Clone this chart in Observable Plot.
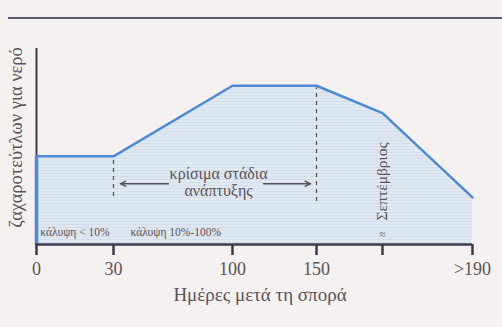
<!DOCTYPE html>
<html>
<head>
<meta charset="utf-8">
<script src="https://cdn.jsdelivr.net/npm/d3@7"></script>
<script src="https://cdn.jsdelivr.net/npm/@observablehq/plot@0.6"></script>
<style>
  html, body { margin: 0; padding: 0; background: #f4f1f0; }
  #wrap { position: relative; width: 502px; height: 327px; overflow: hidden; }
  #topline { position: absolute; left: 8px; right: 0; top: 17px; height: 2px; background: #5a5a6e; }
</style>
</head>
<body>
<div id="wrap"><div id="topline"></div><div id="chart"></div></div>
<script>
// Data
const days = [0, 30, 100, 150, 175, 190];
const water = [45, 45, 81, 81, 67, 24];
const tickDays = [0, 30, 100, 150, 175, 190];
const tickLabels = ["0", "30", "100", "150", "", ">190"];
const xLabel = "Ημέρες μετά τη σπορά";
const yLabel = "ζαχαροτεύτλων για νερό";
const criticalStart = 30, criticalEnd = 150;
const criticalText = ["κρίσιμα στάδια", "ανάπτυξης"];
const coverLabels = ["κάλυψη < 10%", "κάλυψη 10%-100%"];
const coverDays = [1.5, 40];
const septDay = 175;
const septLabel = "Σεπτέμβριος";

const data = days.map((d, i) => ({day: d, w: water[i]}));
const serif = "'Liberation Serif', 'DejaVu Serif', serif";
const textColor = "#5b5258";
const axisColor = "#3d3b4e";
const blue = "#4f8ad6";

const chart = Plot.plot({
  width: 502,
  height: 327,
  marginLeft: 35,
  marginRight: 30,
  marginTop: 48,
  marginBottom: 83,
  style: {background: "transparent", fontFamily: serif},
  x: {type: "linear", domain: tickDays, range: [36, 113, 232, 316, 382, 472]},
  y: {domain: [0, 100], axis: null},
  marks: [
    Plot.areaY(data, {x: "day", y: "w", fill: "url(#stripes)"}),
    Plot.ruleX([0], {y1: 0, y2: 100, stroke: axisColor, strokeWidth: 2}),
    Plot.ruleX([0], {y1: 0, y2: water[0], stroke: blue, strokeWidth: 3.5}),
    Plot.lineY(data, {x: "day", y: "w", stroke: blue, strokeWidth: 2.5}),
    Plot.ruleX([criticalStart], {y1: 24.5, y2: 43, stroke: "#555", strokeWidth: 1.3, strokeDasharray: "4,4"}),
    Plot.ruleX([criticalEnd], {y1: 22, y2: 80, stroke: "#555", strokeWidth: 1.3, strokeDasharray: "4,4"}),
    Plot.arrow([0], {x1: 62.4, x2: 34, y1: 31, y2: 31, stroke: "#55505a", strokeWidth: 1.3, headLength: 7, headAngle: 50}),
    Plot.arrow([0], {x1: 118.5, x2: 146.5, y1: 31, y2: 31, stroke: "#55505a", strokeWidth: 1.3, headLength: 7, headAngle: 50}),
    Plot.text([criticalText[0]], {x: 91.8, y: 36.2, fontSize: 16, fontFamily: serif, fill: textColor}),
    Plot.text([criticalText[1]], {x: 91.8, y: 27.4, fontSize: 16, fontFamily: serif, fill: textColor}),
    Plot.text(coverLabels, {x: (d, i) => coverDays[i], y: 6.2, textAnchor: "start", fontSize: 11.5, fontFamily: serif, fill: textColor}),
    Plot.text([septLabel], {x: septDay, y: 32.2, rotate: -90, fontSize: 15.5, fontFamily: serif, fill: textColor}),
    Plot.text(["≈"], {x: septDay, y: 5, fontSize: 11, fontFamily: serif, fill: textColor}),
    Plot.ruleY([0], {stroke: axisColor, strokeWidth: 2.5}),
    Plot.axisX({ticks: tickDays, tickFormat: (d) => tickLabels[tickDays.indexOf(d)], tickSize: 11, tickPadding: 7, fontSize: 18, fontFamily: serif, stroke: axisColor, strokeWidth: 2.5, color: textColor, label: null}),
    Plot.text([xLabel], {frameAnchor: "bottom", dx: 6, dy: 56, fontSize: 19, fontFamily: serif, fill: textColor}),
    Plot.text([yLabel], {frameAnchor: "left", textAnchor: "middle", rotate: -90, dx: -19, dy: -9, fontSize: 18.5, fontFamily: serif, fill: textColor})
  ]
});

// stripes pattern for the area fill
const ns = "http://www.w3.org/2000/svg";
const defs = document.createElementNS(ns, "defs");
defs.innerHTML = '<pattern id="stripes" width="6" height="3" patternUnits="userSpaceOnUse">' +
  '<rect width="6" height="3" fill="#e0e8f2"/><rect y="2" width="6" height="1" fill="#d2deec"/></pattern>';
chart.insertBefore(defs, chart.firstChild);
document.getElementById("chart").appendChild(chart);
</script>
</body>
</html>
